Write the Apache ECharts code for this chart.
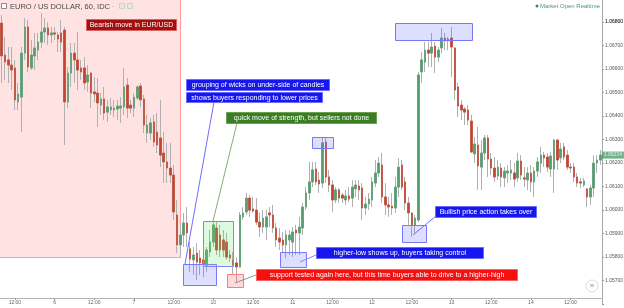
<!DOCTYPE html>
<html><head><meta charset="utf-8">
<script src="https://cdn.jsdelivr.net/npm/echarts/dist/echarts.min.js"></script>
<style>html,body{margin:0;padding:0;background:#fff}#c{width:624px;height:308px}</style>
</head><body><div id="c"></div>
<script>
// Trading days shown on the axis (hourly candles), first day starts 08:00, last ends 21:00
const days = [5, 6, 7, 10, 11, 12, 13, 14];
const firstHour = 8, lastHour = 21;

const open = [1.06796,1.06660,1.06639,1.06617,1.06605,1.06460,1.06481,1.06668,1.06779,1.06605,
1.06656,1.06681,1.06715,1.06758,1.06775,1.06745,1.06754,1.06745,1.06754,1.06766,
1.06460,1.06583,1.06668,1.06639,1.06605,1.06605,1.06545,1.06583,1.06503,1.06498,
1.06447,1.06473,1.06417,1.06426,1.06426,1.06430,1.06434,1.06439,1.06532,1.06447,
1.06434,1.06477,1.06528,1.06473,1.06328,1.06328,1.06375,1.06332,1.06307,1.06243,
1.06205,1.06179,1.06149,1.05979,1.05852,1.05894,1.05945,1.05835,1.05788,1.05817,
1.05796,1.05788,1.05766,1.05822,1.05864,1.05924,1.05894,1.05873,1.05864,1.05809,
1.05788,1.05775,1.05758,1.05971,1.05992,1.06051,1.06005,1.06000,1.05949,1.05928,
1.05928,1.05988,1.05979,1.05924,1.05881,1.05873,1.05852,1.05873,1.05864,1.05915,
1.05903,1.05924,1.06013,1.06073,1.06120,1.06175,1.06128,1.06115,1.06290,1.06141,
1.06107,1.06043,1.06086,1.06064,1.06043,1.06060,1.06051,1.06090,1.06103,1.06094,
1.06009,1.06026,1.06043,1.06115,1.06158,1.06192,1.06056,1.06022,1.06017,1.06009,
1.06098,1.06192,1.06120,1.06030,1.05988,1.05937,1.05958,1.06588,1.06630,1.06681,
1.06668,1.06698,1.06651,1.06690,1.06732,1.06728,1.06732,1.06690,1.06524,1.06447,
1.06430,1.06426,1.06379,1.06239,1.06277,1.06183,1.06243,1.06307,1.06217,1.06179,
1.06145,1.06179,1.06137,1.06158,1.06158,1.06158,1.06137,1.06209,1.06137,1.06128,
1.06158,1.06120,1.06166,1.06200,1.06234,1.06226,1.06175,1.06175,1.06298,1.06222,
1.06269,1.06234,1.06183,1.06183,1.06141,1.06120,1.06107,1.06090,1.06056,1.06094,
1.06200,1.06213];

const close = [1.06656,1.06630,1.06617,1.06596,1.06469,1.06494,1.06668,1.06779,1.06609,1.06660,
1.06690,1.06715,1.06758,1.06775,1.06745,1.06754,1.06749,1.06728,1.06715,1.06460,
1.06583,1.06668,1.06639,1.06596,1.06588,1.06541,1.06575,1.06498,1.06494,1.06456,
1.06473,1.06413,1.06439,1.06439,1.06434,1.06443,1.06443,1.06524,1.06434,1.06434,
1.06481,1.06524,1.06469,1.06362,1.06362,1.06371,1.06290,1.06277,1.06234,1.06205,
1.06179,1.06149,1.05992,1.05852,1.05894,1.05945,1.05903,1.05792,1.05809,1.05779,
1.05775,1.05771,1.05830,1.05864,1.05937,1.05830,1.05830,1.05830,1.05800,1.05796,
1.05766,1.05758,1.05979,1.05988,1.06051,1.06000,1.05996,1.05949,1.05928,1.05966,
1.05971,1.05979,1.05924,1.05873,1.05864,1.05852,1.05894,1.05894,1.05907,1.05903,
1.05928,1.06013,1.06073,1.06120,1.06171,1.06120,1.06111,1.06286,1.06141,1.06107,
1.06043,1.06086,1.06051,1.06051,1.06060,1.06047,1.06098,1.06107,1.06086,1.06009,
1.06026,1.06047,1.06120,1.06158,1.06200,1.06056,1.06022,1.06013,1.06009,1.06098,
1.06183,1.06098,1.06030,1.05988,1.05937,1.05966,1.06575,1.06639,1.06681,1.06668,
1.06694,1.06651,1.06681,1.06732,1.06720,1.06720,1.06694,1.06511,1.06443,1.06426,
1.06417,1.06383,1.06247,1.06281,1.06188,1.06243,1.06307,1.06217,1.06179,1.06141,
1.06183,1.06141,1.06166,1.06166,1.06171,1.06132,1.06209,1.06149,1.06132,1.06158,
1.06120,1.06166,1.06205,1.06234,1.06222,1.06183,1.06230,1.06298,1.06213,1.06260,
1.06226,1.06183,1.06179,1.06141,1.06115,1.06115,1.06124,1.06056,1.06094,1.06200,
1.06213,1.06234];

const low = [1.06541,1.06554,1.06541,1.06511,1.06426,1.06426,1.06332,1.06639,1.06588,1.06596,
1.06596,1.06639,1.06690,1.06711,1.06703,1.06711,1.06724,1.06673,1.06673,1.06277,
1.06434,1.06524,1.06541,1.06511,1.06554,1.06511,1.06503,1.06434,1.06460,1.06354,
1.06405,1.06383,1.06375,1.06405,1.06396,1.06383,1.06371,1.06405,1.06392,1.06413,
1.06396,1.06469,1.06439,1.06328,1.06286,1.06298,1.06269,1.06243,1.06183,1.06115,
1.06115,1.06115,1.05958,1.05817,1.05800,1.05843,1.05843,1.05737,1.05724,1.05703,
1.05724,1.05715,1.05737,1.05800,1.05843,1.05809,1.05800,1.05800,1.05788,1.05779,
1.05724,1.05690,1.05754,1.05958,1.05979,1.05971,1.05988,1.05937,1.05886,1.05903,
1.05873,1.05928,1.05903,1.05843,1.05830,1.05817,1.05796,1.05809,1.05800,1.05809,
1.05809,1.05894,1.06000,1.06043,1.06098,1.06107,1.06073,1.06094,1.06115,1.06077,
1.05992,1.06030,1.06030,1.06030,1.06022,1.06034,1.06013,1.06056,1.06043,1.05958,
1.05979,1.06000,1.06013,1.06098,1.06141,1.06030,1.05979,1.05971,1.05979,1.05988,
1.06056,1.06086,1.06000,1.05937,1.05886,1.05903,1.05949,1.06541,1.06588,1.06609,
1.06609,1.06583,1.06630,1.06668,1.06681,1.06681,1.06566,1.06469,1.06396,1.06383,
1.06362,1.06362,1.06243,1.06200,1.06086,1.06086,1.06213,1.06141,1.06149,1.06120,
1.06128,1.06098,1.06098,1.06115,1.06128,1.06098,1.06120,1.06128,1.06098,1.06086,
1.06077,1.06056,1.06141,1.06158,1.06183,1.06162,1.06141,1.06073,1.06171,1.06200,
1.06213,1.06171,1.06158,1.06120,1.06098,1.06094,1.06098,1.06013,1.06022,1.06056,
1.06158,1.06192];

const high = [1.06830,1.06737,1.06694,1.06694,1.06639,1.06541,1.06694,1.06817,1.06809,1.06724,
1.06754,1.06754,1.06839,1.06817,1.06800,1.06779,1.06779,1.06758,1.06809,1.06779,
1.06609,1.06711,1.06711,1.06758,1.06639,1.06651,1.06617,1.06588,1.06566,1.06562,
1.06498,1.06524,1.06469,1.06477,1.06469,1.06469,1.06481,1.06605,1.06562,1.06469,
1.06498,1.06532,1.06541,1.06490,1.06405,1.06392,1.06405,1.06413,1.06469,1.06332,
1.06286,1.06286,1.06192,1.06043,1.05945,1.05988,1.06013,1.05864,1.05843,1.05860,
1.05830,1.05817,1.05843,1.05915,1.05949,1.05949,1.05937,1.05915,1.05903,1.05830,
1.05822,1.05800,1.05992,1.06013,1.06073,1.06064,1.06056,1.06051,1.05988,1.06000,
1.06000,1.06013,1.06022,1.05945,1.05924,1.05907,1.05915,1.05915,1.05928,1.05937,
1.05971,1.06030,1.06098,1.06205,1.06205,1.06205,1.06162,1.06307,1.06307,1.06171,
1.06128,1.06098,1.06094,1.06073,1.06086,1.06098,1.06128,1.06128,1.06128,1.06115,
1.06056,1.06073,1.06141,1.06213,1.06226,1.06243,1.06115,1.06056,1.06073,1.06141,
1.06222,1.06213,1.06141,1.06056,1.05988,1.05979,1.06588,1.06673,1.06715,1.06715,
1.06754,1.06715,1.06694,1.06775,1.06754,1.06737,1.06779,1.06694,1.06541,1.06469,
1.06439,1.06447,1.06405,1.06311,1.06354,1.06298,1.06320,1.06320,1.06243,1.06226,
1.06213,1.06200,1.06183,1.06192,1.06213,1.06200,1.06243,1.06234,1.06183,1.06183,
1.06192,1.06183,1.06226,1.06269,1.06247,1.06243,1.06247,1.06303,1.06303,1.06286,
1.06286,1.06256,1.06200,1.06200,1.06158,1.06137,1.06137,1.06094,1.06107,1.06234,
1.06234,1.06256];

// price axis: ticks every 0.001, labelled from 1.05700 to 1.06800
const priceMin = 1.056, priceMax = 1.070, priceStep = 0.001;
const labelLo = 1.0565, labelHi = 1.0685, topTickLabel = 1.068;
const UP = '#55a06f', DOWN = '#c8432f';

// categories "day|hour"
const cats = [];
days.forEach((d, di) => {
  const h0 = di === 0 ? firstHour : 0;
  const h1 = di === days.length - 1 ? lastHour : 23;
  for (let h = h0; h <= h1; h++) cats.push(d + '|' + h);
});
const showIdx = (i, v) => { const h = +String(v).split('|')[1]; return h === 0 || h === 12; };
const fmtX = v => { const p = String(v).split('|'); return +p[1] === 12 ? '12:00' : p[0]; };
const fmtY = v => (v > labelLo && v < labelHi) ? v.toFixed(5) : '';

const wickData = open.map((o, i) => [o, close[i], low[i], high[i]]);
const bodyData = open.map((o, i) => [o, close[i], Math.min(o, close[i]), Math.max(o, close[i])]);
const lastIdx = close.length - 1;

const FONT = '"Liberation Sans", Arial, sans-serif';
function rect(x, y, w, h, fill, stroke, z) {
  return {type: 'rect', z: z, silent: true, shape: {x: x + 0.5, y: y + 0.5, width: w, height: h}, style: {fill: fill, stroke: stroke, lineWidth: 1}};
}
function tag(x, y, w, h, bg, border, txt) {
  return [rect(x, y, w, h, bg, border, 30),
    {type: 'text', z: 31, silent: true, x: x + w / 2 + 0.5, y: y + h / 2 + 1,
     style: {text: txt, fill: '#fff', font: '7px ' + FONT, align: 'center', verticalAlign: 'middle'}}];
}
function seg(x1, y1, x2, y2, c) {
  return {type: 'line', z: 25, silent: true, shape: {x1: x1, y1: y1, x2: x2, y2: y2}, style: {stroke: c, lineWidth: 1}};
}
const BLUEFILL = 'rgba(90,90,255,0.2)', BLUESTROKE = '#7878ff';
const graphics = [
  rect(-1, -1, 181, 258, 'rgba(255,0,0,0.11)', '#ff9c9c', 0),
  rect(183, 264, 33, 21, BLUEFILL, BLUESTROKE, 10),
  rect(203, 221, 30, 45, 'rgba(90,230,90,0.2)', '#8484ff', 10),
  rect(227, 274, 16, 13, 'rgba(255,80,80,0.22)', '#ff7c7c', 10),
  rect(312, 137, 21, 11, BLUEFILL, BLUESTROKE, 10),
  rect(280, 252, 26, 15, BLUEFILL, BLUESTROKE, 10),
  rect(402, 225, 24, 17, BLUEFILL, BLUESTROKE, 10),
  rect(395, 23, 77, 17, BLUEFILL, BLUESTROKE, 10),
  seg(214, 102, 185, 264, '#6e6eff'),
  seg(237, 123, 213, 221, '#86b078'),
  seg(235, 283, 256, 275, '#7fa07f'),
  seg(300, 262, 316, 255, '#8a8ae8'),
  seg(413, 235, 436, 216, '#6e6eff'),
  ...tag(86, 19, 90, 11, '#a30f0f', '#d86060', 'Bearish move in EUR/USD'),
  ...tag(186, 79, 143, 11, '#1616ee', '#6a6aff', 'grouping of wicks on under-side of candles'),
  ...tag(186, 92, 136, 10, '#1616ee', '#6a6aff', 'shows buyers responding to lower prices'),
  ...tag(226, 112, 150, 11, '#3b7d23', '#6aa050', 'quick move of strength, but sellers not done'),
  ...tag(256, 269, 261, 11, '#f51010', '#ff6060', 'support tested again here, but this time buyers able to drive to a higher-high'),
  ...tag(316, 247, 167, 11, '#1616ee', '#6a6aff', 'higher-low shows up, buyers taking control'),
  ...tag(435, 206, 101, 11, '#1616ee', '#6a6aff', 'Bullish price action takes over'),
  // header
  rect(1, 3, 5, 5, '#fff', '#8a8a8a', 40),
  seg(2.5, 6, 5.5, 6, '#777'),
  {type: 'text', z: 40, silent: true, x: 10, y: 6.5, style: {text: 'EURO / US DOLLAR, 60, IDC', fill: '#4a4a4a', font: '7.5px ' + FONT, align: 'left', verticalAlign: 'middle'}},
  {type: 'text', z: 40, silent: true, x: 112, y: 6, style: {text: '-', fill: '#999', font: '6px ' + FONT, align: 'left', verticalAlign: 'middle'}},
  rect(119, 3, 5, 5, '#e6e6e6', '#cfcfcf', 40),
  rect(127, 3, 5, 5, '#e6e6e6', '#cfcfcf', 40),
  {type: 'circle', z: 40, silent: true, shape: {cx: 537, cy: 6, r: 1.5}, style: {fill: '#2f8a57'}},
  {type: 'text', z: 40, silent: true, x: 540, y: 6.5, style: {text: 'Market Open Realtime', fill: '#4a9a6c', font: '6px ' + FONT, align: 'left', verticalAlign: 'middle'}},
  {type: 'circle', z: 40, silent: true, shape: {cx: 592, cy: 286, r: 6}, style: {fill: '#fff', stroke: '#dcdcdc', lineWidth: 1}},
  {type: 'text', z: 41, silent: true, x: 592, y: 286, style: {text: '»', fill: '#888', font: '8px ' + FONT, align: 'center', verticalAlign: 'middle'}}
];

const chart = echarts.init(document.getElementById('c'), null, {renderer: 'canvas'});
chart.setOption({
  animation: false,
  backgroundColor: '#fff',
  grid: {left: 0, right: 22, top: -24.9, bottom: 3.9, containLabel: false, outerBoundsMode: 'none'},
  xAxis: {
    type: 'category', data: cats, boundaryGap: true, offset: -6.1,
    axisLine: {lineStyle: {color: '#b4b4b4', width: 1}},
    axisTick: {show: true, interval: showIdx, alignWithLabel: true, length: 2, lineStyle: {color: '#999'}},
    axisLabel: {interval: showIdx, formatter: fmtX, fontSize: 5, color: '#666', margin: 2, fontFamily: FONT},
    splitLine: {show: false}
  },
  yAxis: {
    type: 'value', position: 'right', min: priceMin, max: priceMax, interval: priceStep,
    axisLine: {show: true, lineStyle: {color: '#a8a8a8'}},
    axisTick: {show: true, length: 2, lineStyle: {color: '#999'}},
    axisLabel: {showMinLabel: true, showMaxLabel: true, hideOverlap: false, fontSize: 5, color: '#555', margin: 3, fontFamily: FONT,
      formatter: fmtY},
    splitLine: {show: false}
  },
  graphic: graphics,
  series: [
    {type: 'candlestick', data: wickData, barWidth: 2, silent: true, z: 2,
     itemStyle: {color: 'transparent', color0: 'transparent', borderColor: '#b0b0b0', borderColor0: '#b0b0b0', borderWidth: 1}},
    {type: 'candlestick', data: bodyData, barWidth: 2, silent: true, z: 3,
     itemStyle: {color: UP, color0: DOWN, borderColor: UP, borderColor0: DOWN, borderWidth: 0.6}},
    {type: 'scatter', data: [[lastIdx, close[lastIdx]]], symbolSize: 1, silent: true, z: 20,
     itemStyle: {color: 'rgba(0,0,0,0)'},
     label: {show: true, position: 'right', distance: 1, formatter: p => p.value[1].toFixed(5), color: '#fff',
       backgroundColor: '#4f9d6c', fontSize: 5, padding: [1, 2], fontFamily: FONT}}
  ]
});
// the top price label, placed through the y scale on its own layer
let topY = 22;
try {
  const v = chart.convertToPixel({yAxisIndex: 0}, topTickLabel);
  if (typeof v === 'number' && isFinite(v)) topY = v;
} catch (e) {}
chart.setOption({graphic: graphics.concat([
  {type: 'text', zlevel: 1, z: 100, silent: true, x: 605, y: topY,
   style: {text: topTickLabel.toFixed(5), fill: '#555', font: '5px ' + FONT, align: 'left', verticalAlign: 'middle'}}
])});
</script>
</body></html>
